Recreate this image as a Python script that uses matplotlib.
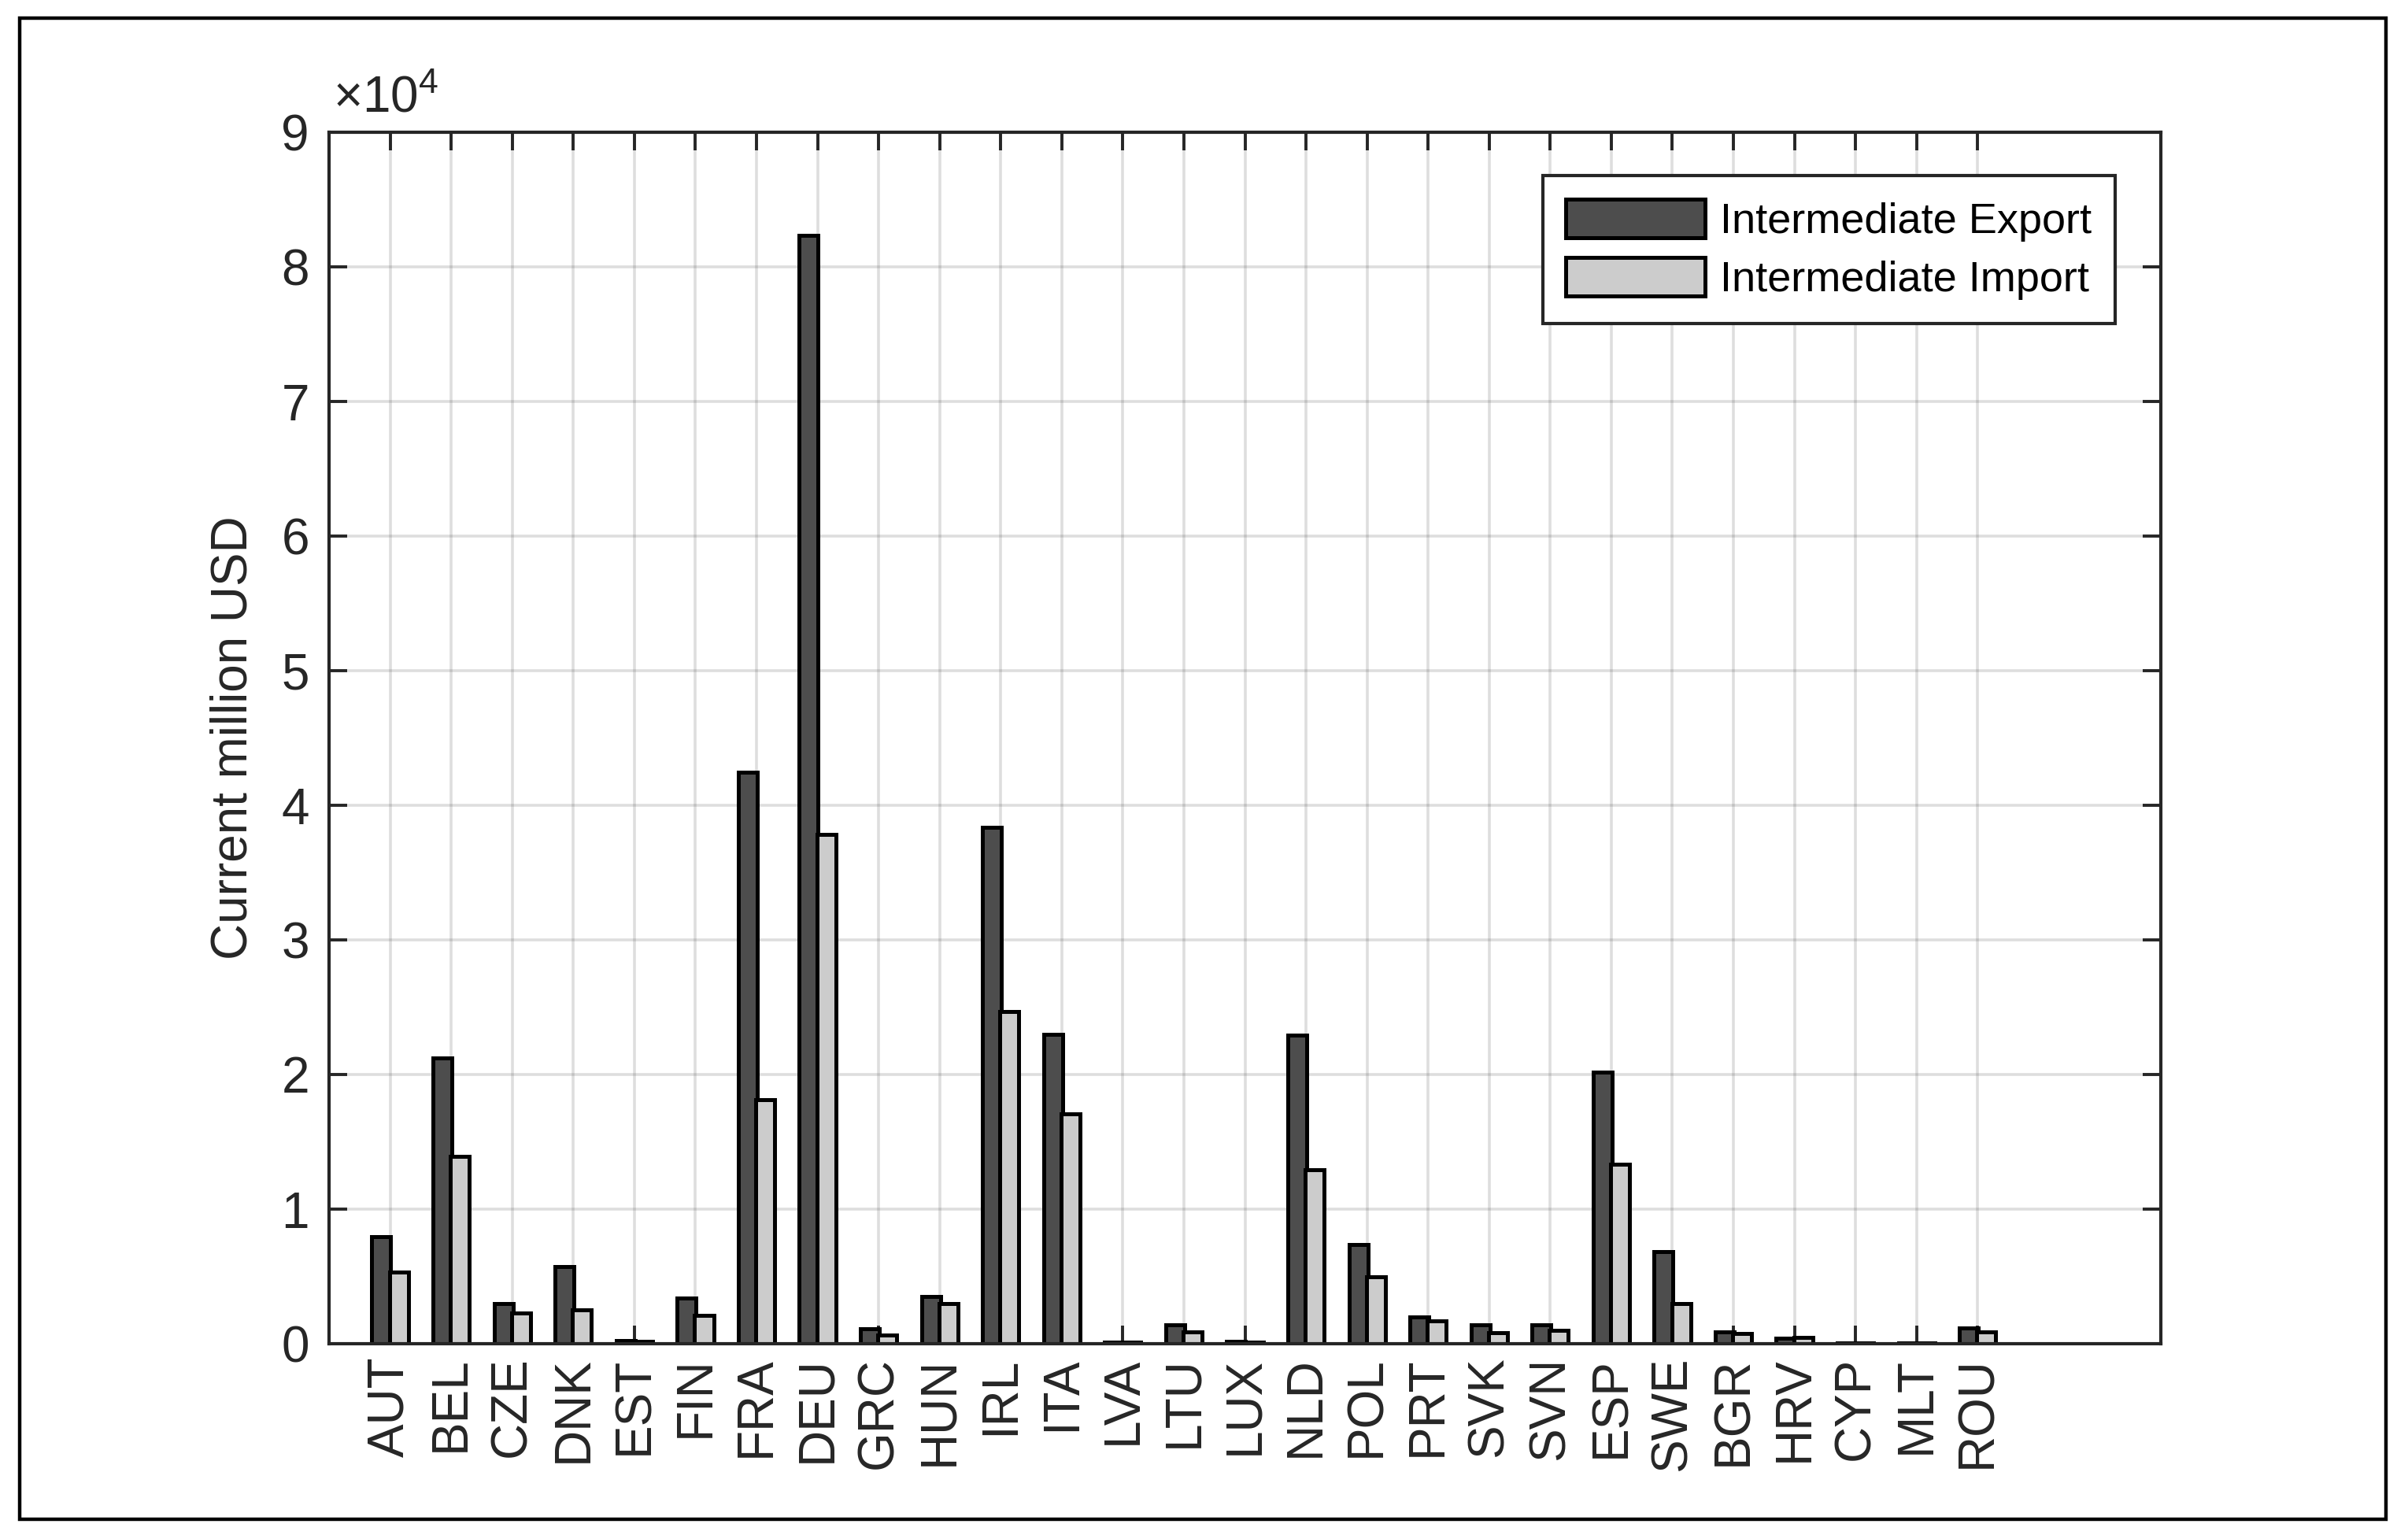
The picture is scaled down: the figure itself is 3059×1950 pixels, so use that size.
import numpy as np
import matplotlib
matplotlib.use('Agg')
import matplotlib.pyplot as plt
from matplotlib.ticker import FuncFormatter
from matplotlib.patches import Rectangle

# values in current million USD
countries = ['AUT', 'BEL', 'CZE', 'DNK', 'EST', 'FIN', 'FRA', 'DEU', 'GRC',
             'HUN', 'IRL', 'ITA', 'LVA', 'LTU', 'LUX', 'NLD', 'POL', 'PRT',
             'SVK', 'SVN', 'ESP', 'SWE', 'BGR', 'HRV', 'CYP', 'MLT', 'ROU']
inter_export = [7950, 21200, 3000, 5740, 230, 3400, 42470, 82350, 1100,
                3500, 38350, 23010, 120, 1400, 180, 22950, 7350, 2000,
                1400, 1400, 20160, 6850, 900, 400, 60, 60, 1150]
inter_import = [5300, 13900, 2300, 2500, 180, 2100, 18100, 37820, 650,
                3000, 24670, 17100, 90, 900, 130, 12940, 5000, 1700,
                800, 1000, 13330, 3000, 750, 450, 40, 40, 860]

plt.rcParams['font.family'] = ['Liberation Sans', 'DejaVu Sans']
plt.rcParams['mathtext.fontset'] = 'custom'
plt.rcParams['mathtext.rm'] = 'Liberation Sans'
plt.rcParams['mathtext.it'] = 'Liberation Sans'

dark = '#262626'
fs = 23

fig = plt.figure(figsize=(3059 / 200, 1950 / 200), dpi=200)
ax = fig.add_axes([418 / 3059, 1 - 1707 / 1950, (2745 - 418) / 3059, (1707 - 168) / 1950])

x = np.arange(1, len(countries) + 1)
w = 0.31
off = 0.143
ax.bar(x - off, inter_export, w, color='#4d4d4d', edgecolor='black',
       linewidth=1.8, label='Intermediate Export', zorder=2)
ax.bar(x + off, inter_import, w, color='#cccccc', edgecolor='black',
       linewidth=1.8, label='Intermediate Import', zorder=2)

ax.set_xlim(0, 30)
ax.set_ylim(0, 90000)
ax.set_xticks(x)
ax.set_xticklabels(countries, rotation=90, fontsize=fs, color=dark)
ax.set_yticks(np.arange(0, 90001, 10000))
ax.yaxis.set_major_formatter(FuncFormatter(lambda v, p: f'{v / 1e4:g}'))

ax.tick_params(direction='in', length=8.3, width=1.4, color=dark,
               top=True, right=True, labelsize=fs, labelcolor=dark)
ax.tick_params(axis='x', pad=6)
ax.tick_params(axis='y', pad=9)
ax.set_axisbelow(True)
ax.grid(True, color=dark, alpha=0.15, linewidth=1.3)
for s in ax.spines.values():
    s.set_linewidth(1.5)
    s.set_color(dark)

ax.set_ylabel('Current million USD', fontsize=fs, color=dark, labelpad=11)
ax.text(0.002, 1.008, r'$\times10^{4}$', transform=ax.transAxes,
        fontsize=fs, color=dark, ha='left', va='bottom')

leg = ax.legend(loc='upper right', bbox_to_anchor=(0.975, 0.964),
                borderaxespad=0, fontsize=19.5, fancybox=False,
                edgecolor=dark, framealpha=1, handlelength=3.26,
                handleheight=1.0, handletextpad=0.35, labelspacing=0.37,
                borderpad=0.55)
leg.get_frame().set_linewidth(1.5)

# outer figure border
fig.patches.append(Rectangle((25 / 3059, 1 - 1930 / 1950), (3031 - 25) / 3059,
                             (1930 - 23) / 1950, transform=fig.transFigure,
                             fill=False, edgecolor='black', linewidth=1.6))

fig.savefig('out.png', dpi=200)
